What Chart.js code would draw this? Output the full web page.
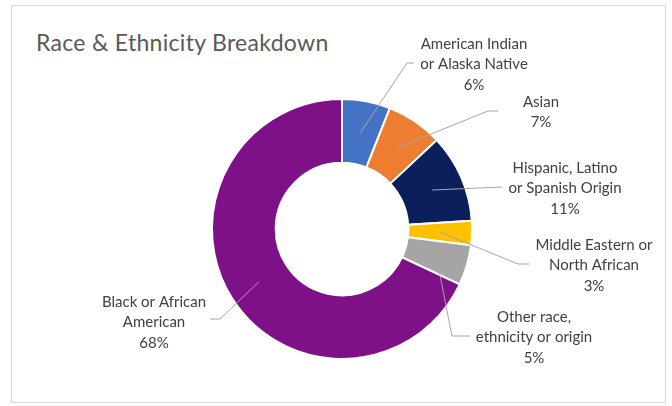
<!DOCTYPE html>
<html>
<head>
<meta charset="utf-8">
<title>Race & Ethnicity Breakdown</title>
<script src="https://cdn.jsdelivr.net/npm/chart.js@4.4.1/dist/chart.umd.min.js"></script>
<style>
  html, body { margin: 0; padding: 0; background: #fff; }
  body { width: 672px; height: 406px; position: relative; overflow: hidden; }
  .frame { position: absolute; left: 11px; top: 5px; width: 655px; height: 398px; border: 1px solid #d9d9d9; box-sizing: border-box; }
  .title { position: absolute; left: 36px; top: 27px; font-family: Lato, sans-serif; font-size: 23px; letter-spacing: 0.3px; color: #595959; white-space: nowrap; line-height: 30px; }
  #raceChart { position: absolute; left: 0; top: 0; }
</style>
</head>
<body>
<div class="frame"></div>
<div class="title">Race &amp; Ethnicity Breakdown</div>
<canvas id="raceChart" width="672" height="406"></canvas>
<script>
// slices run clockwise from 12 o'clock
const categoryLines = [
  ['American Indian', 'or Alaska Native'],
  ['Asian'],
  ['Hispanic, Latino', 'or Spanish Origin'],
  ['Middle Eastern or', 'North African'],
  ['Other race,', 'ethnicity or origin'],
  ['Black or African', 'American']
];
const shares = [6, 7, 11, 3, 5, 68];
const sliceColors = ['#4472C4', '#ED7D31', '#0B1F5C', '#FFC000', '#A5A5A5', '#7E1088'];

// where each callout sits: text centre x, first line y, leader line bend and end
const labelSpots = [
  { x: 474, y: 44,  elbow: [407, 63],  end: [414, 63] },
  { x: 541, y: 102, elbow: [488, 111], end: [498, 111] },
  { x: 565, y: 168, elbow: [502, 187], end: [502, 187] },
  { x: 594, y: 245, elbow: [518, 264], end: [529, 264] },
  { x: 534, y: 317, elbow: [452, 336], end: [470, 336] },
  { x: 154, y: 302, elbow: [220, 319], end: [210, 319] }
];
const lineGap = 20.3;

const calloutPlugin = {
  id: 'callouts',
  afterDatasetsDraw(chart) {
    const ctx = chart.ctx;
    const arcs = chart.getDatasetMeta(0).data;
    ctx.save();
    ctx.font = '15px Lato, sans-serif';
    ctx.fillStyle = '#404040';
    ctx.textAlign = 'center';
    ctx.textBaseline = 'middle';
    ctx.strokeStyle = '#a6a6a6';
    ctx.lineWidth = 1;
    arcs.forEach((arc, i) => {
      const p = arc.getCenterPoint();
      const spot = labelSpots[i];
      ctx.beginPath();
      ctx.moveTo(p.x, p.y);
      ctx.lineTo(spot.elbow[0], spot.elbow[1]);
      ctx.lineTo(spot.end[0], spot.end[1]);
      ctx.stroke();
      const lines = [...categoryLines[i], shares[i] + '%'];
      lines.forEach((t, k) => ctx.fillText(t, spot.x, Math.round(spot.y + k * lineGap)));
    });
    ctx.restore();
  }
};

new Chart(document.getElementById('raceChart'), {
  type: 'doughnut',
  data: {
    labels: categoryLines,
    datasets: [{
      data: shares,
      backgroundColor: sliceColors,
      borderColor: '#ffffff',
      borderWidth: 2
    }]
  },
  options: {
    responsive: false,
    animation: false,
    cutout: '51%',
    layout: { padding: { left: 211, right: 199, top: 98, bottom: 46 } },
    plugins: {
      legend: { display: false },
      tooltip: { enabled: false }
    }
  },
  plugins: [calloutPlugin]
});
</script>
</body>
</html>
